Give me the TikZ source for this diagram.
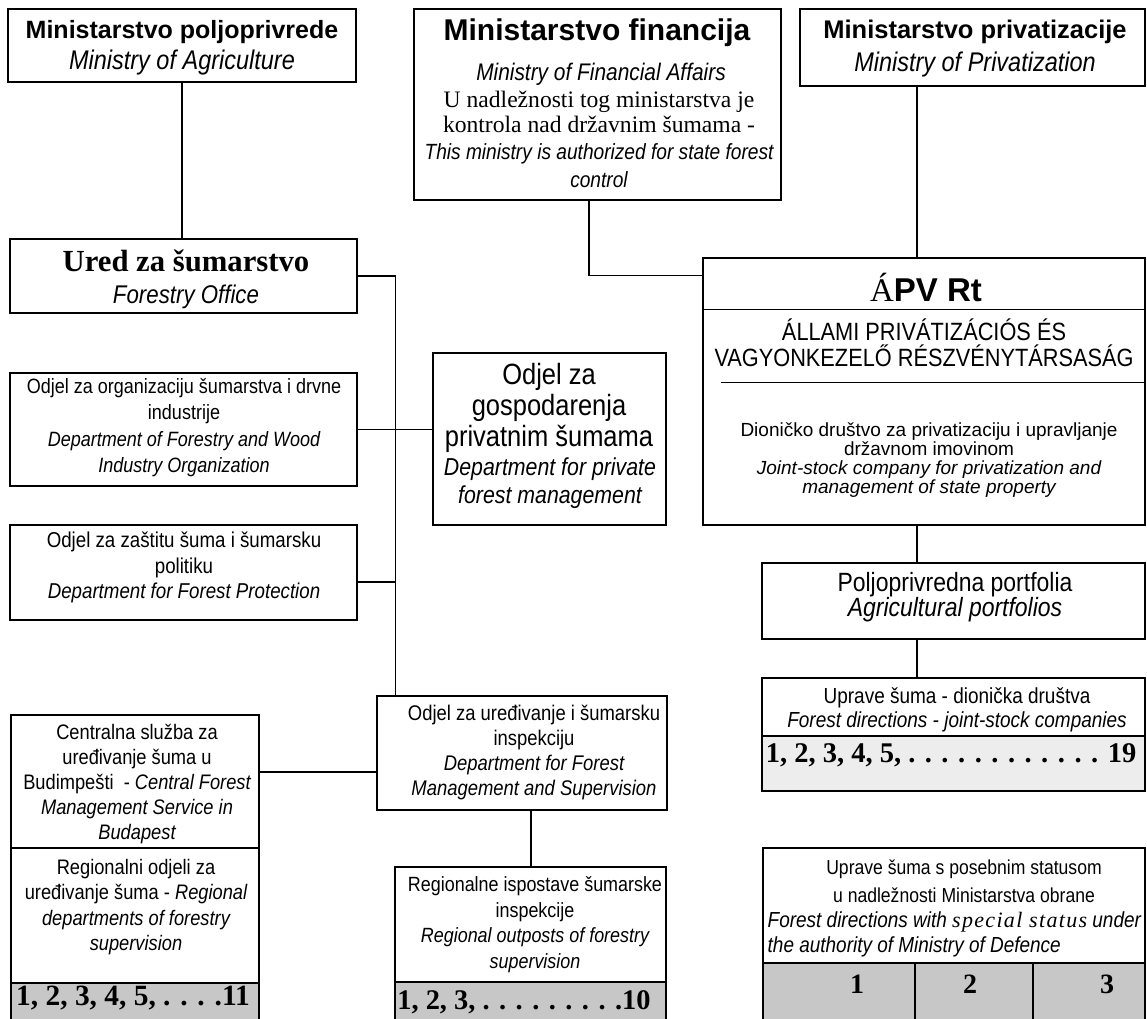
\documentclass[tikz,border=0pt]{standalone}
\usepackage{fontspec}
\setmainfont{Liberation Sans}
\newfontfamily\cond[FakeStretch=0.87]{Liberation Sans}
\newfontfamily\serif{Liberation Serif}
\newcommand\vel[2]{\fontsize{#1}{#2}\selectfont}

\begin{document}
\begin{tikzpicture}[x=1pt,y=-1pt,line width=1.4pt,
    okvir/.style 2 args={draw,inner sep=0pt,minimum width=#1pt,minimum height=#2pt},
    siva/.style={fill=black!22},
    tekst/.style={inner sep=0pt,align=center}]
  \useasboundingbox (0,0) rectangle (1147,1018);
  % ministarstva
  \node[okvir={348}{73}] (a) at (182,45.5) {};
  \node[tekst,font=\vel{25}{31}] (aT) at (182,48)
    {\bfseries Ministarstvo poljoprivrede\\{\cond\itshape\mdseries\vel{27}{31}Ministry of Agriculture}};
  \node[okvir={367}{191}] (b) at (597.5,104.5) {};
  \node[tekst,font=\bfseries\vel{30}{34}] (bT) at (597,33) {Ministarstvo financija};
  \node[tekst,font=\cond\itshape\vel{24}{28}] (bE) at (601,74) {Ministry of Financial Affairs};
  \node[tekst,font=\serif\vel{23.6}{25}] (bS) at (599,112)
    {U nadležnosti tog ministarstva je\\kontrola nad državnim šumama -};
  \node[tekst,font=\cond\itshape\vel{22}{28}] (bN) at (599,166)
    {This ministry is authorized for state forest\\control};
  \node[okvir={345}{77}] (c) at (972.5,47.5) {};
  \node[tekst,font=\vel{25.5}{33}] (cT) at (975,49)
    {\bfseries Ministarstvo privatizacije\\{\cond\itshape\mdseries\vel{27}{33}Ministry of Privatization}};

  % ured za sumarstvo
  \node[okvir={347}{74}] (d) at (183.5,276) {};
  \node[tekst,font=\vel{30.7}{32}] (dT) at (186,279)
    {{\serif\bfseries Ured za šumarstvo}\\{\cond\itshape\vel{25.6}{32}Forestry Office}};
  \node[okvir={347}{113}] (e) at (183.5,429.5) {};
  \node[tekst,font=\cond\vel{20.7}{26.5}] (eT) at (184,427.5)
    {Odjel za organizaciju šumarstva i drvne\\industrije\\{\itshape Department of Forestry and Wood}\\{\itshape Industry Organization}};
  \node[okvir={233}{172}] (f) at (549.5,439) {};
  \node[tekst,font=\cond\vel{29.3}{31}] (fS) at (549,408) {Odjel za\\gospodarenja\\privatnim šumama};
  \node[tekst,font=\cond\itshape\vel{24.5}{28}] (fE) at (550,483) {Department for private\\forest management};
  \node[okvir={347}{95}] (g) at (183.5,572.5) {};
  \node[tekst,font=\cond\vel{21.5}{25.5}] (gT) at (184,567.5)
    {Odjel za zaštitu šuma i šumarsku\\politiku\\{\itshape Department for Forest Protection}};
  \node[okvir={290}{114}] (i) at (522,753) {};
  \node[tekst,font=\cond\vel{21.2}{25}] (iT) at (534,752.5)
    {Odjel za uređivanje i šumarsku\\inspekciju\\{\itshape Department for Forest}\\{\itshape Management and Supervision}};

  % centralna sluzba
  \node[okvir={248}{133}] (h1) at (135,781.5) {};
  \node[okvir={248}{135}] (h2) at (135,915.5) {};
  \node[okvir={248}{39},siva] (h3) at (135,1002.5) {};
  \node[tekst,font=\cond\vel{21}{25}] (h1T) at (137,784)
    {Centralna služba za\\uređivanje šuma u\\Budimpešti\ \ - {\itshape Central Forest}\\{\itshape Management Service in}\\{\itshape Budapest}};
  \node[tekst,font=\cond\vel{21}{25.5}] (h2T) at (136,907)
    {Regionalni odjeli za\\uređivanje šuma - {\itshape Regional}\\{\itshape departments of forestry}\\{\itshape supervision}};
  \node[tekst,font=\serif\bfseries\vel{29.4}{31}] (h3T) at (133,998) {1, 2, 3, 4, 5, . . . .11};

  % ispostave
  \node[okvir={271}{115}] (j1) at (530.5,924.5) {};
  \node[okvir={271}{40},siva] (j2) at (530.5,1002) {};
  \node[tekst,font=\cond\vel{20.6}{25.5}] (j1T) at (535,924.5)
    {Regionalne ispostave šumarske\\inspekcije\\{\itshape Regional outposts of forestry}\\{\itshape supervision}};
  \node[tekst,font=\serif\bfseries\vel{28.4}{30}] (j2T) at (524,1002) {1, 2, 3, . . . . . . . . .10};

  % APV
  \node[okvir={442}{267}] (apv) at (924,391.5) {};
  \draw ([yshift=-52pt]apv.north west) -- ([yshift=-52pt]apv.north east);
  \draw ([xshift=19pt,yshift=-125pt]apv.north west) -- ([yshift=-125pt]apv.north east);
  \node[tekst,font=\bfseries\vel{33}{36}] (apvT) at (926,287) {{\serif\mdseries Á}PV Rt};
  \node[tekst,font=\cond\vel{25}{26}] (apvH) at (924,343)
    {ÁLLAMI PRIVÁTIZÁCIÓS ÉS\\VAGYONKEZELŐ RÉSZVÉNYTÁRSASÁG};
  \node[tekst,font=\vel{19}{19}] (apvD) at (929,460)
    {Dioničko društvo za privatizaciju i upravljanje\\državnom imovinom\\{\itshape Joint-stock company for privatization and}\\{\itshape management of state property}};
  \node[okvir={383}{76}] (k) at (953.5,601) {};
  \node[tekst,font=\cond\vel{26.4}{25}] (kT) at (955,597)
    {Poljoprivredna portfolia\\{\itshape Agricultural portfolios}};
  \node[okvir={383}{58}] (l1) at (953.5,707) {};
  \node[okvir={383}{55},fill=black!7] (l2) at (953.5,763.5) {};
  \node[tekst,font=\cond\vel{21.8}{24}] (l1T) at (957,710)
    {Uprave šuma - dionička društva\\{\itshape Forest directions - joint-stock companies}};
  \node[tekst,font=\serif\bfseries\vel{28.5}{30}] (l2T) at (951,755) {1, 2, 3, 4, 5, . . . . . . . . . . . . 19};

  % posebni status
  \node[okvir={382}{115}] (m1) at (954,905.5) {};
  \node[okvir={152}{59},siva] (mc1) at (839,992.5) {};
  \node[okvir={118}{59},siva] (mc2) at (974,992.5) {};
  \node[okvir={112}{59},siva] (mc3) at (1089,992.5) {};
  \node[tekst,font=\cond\vel{20.2}{28}] (m1T) at (964,881)
    {Uprave šuma s posebnim statusom\\u nadležnosti Ministarstva obrane};
  \node[tekst,font=\cond\itshape\vel{21.8}{25},align=left,anchor=west] (m2T) at (767,934.5)
    {Forest directions with {\serif\itshape\addfontfeature{LetterSpace=6}\vel{22}{25}special status} under\\the authority of Ministry of Defence};
  \node[tekst,font=\serif\bfseries\vel{28}{28}] (mn1) at (857,984) {1};
  \node[tekst,font=\serif\bfseries\vel{28}{28}] (mn2) at (970,984) {2};
  \node[tekst,font=\serif\bfseries\vel{28}{28}] (mn3) at (1107,984) {3};

  % veze
  \coordinate (os) at ([xshift=-7pt]apv.north);
  \coordinate (deblo) at ([xshift=19pt]i.north west);
  \draw (a.south) -- (a.south |- d.north);
  \draw ([xshift=-8.5pt]b.south) |- ([yshift=-18pt]apv.north west);
  \draw (os |- c.south) -- (os);
  \draw (os |- apv.south) -- (os |- k.north) (os |- k.south) -- (os |- l1.north);
  \draw (d.east) -| (deblo);
  \draw (e.east) -- (e.east -| f.west);
  \draw ([yshift=-9.5pt]g.east) -- ([yshift=-9.5pt]g.east -| deblo);
  \draw ([yshift=9.5pt]h1.east) -- ([yshift=9.5pt]h1.east -| i.west);
  \draw ([xshift=9pt]i.south) -- ([xshift=9pt]i.south |- j1.north);
\end{tikzpicture}
\end{document}
